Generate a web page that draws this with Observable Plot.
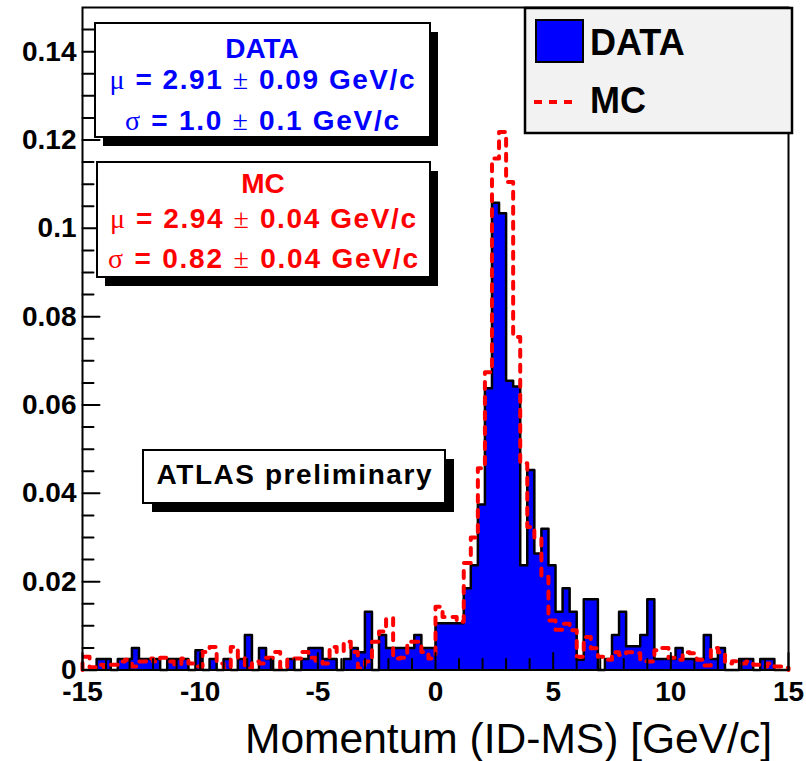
<!DOCTYPE html>
<html>
<head>
<meta charset="utf-8">
<script src="https://cdn.jsdelivr.net/npm/d3@7"></script>
<script src="https://cdn.jsdelivr.net/npm/@observablehq/plot@0.6"></script>
<style>
  html, body { margin: 0; padding: 0; background: #fff; overflow: hidden; }
  #chart svg { display: block; }
</style>
</head>
<body>
<div id="chart"></div>
<script>
// ---- data -------------------------------------------------------------
const binLow = -15, binHigh = 15, binWidth = 0.3;

const dataValues = [
  0, 0, 0.0025, 0.0025, 0, 0.0025, 0.0025, 0.005, 0.0025, 0.0025,
  0.0025, 0, 0.0025, 0.0025, 0.0025, 0, 0.0045, 0, 0.0025, 0,
  0.0025, 0, 0.0025, 0.0079, 0, 0.005, 0.0025, 0, 0, 0.0025,
  0, 0.0025, 0.005, 0.005, 0.0025, 0.0025, 0, 0.0025, 0.005, 0.004,
  0.0132, 0, 0.0079, 0.005, 0.005, 0.005, 0.005, 0.0079, 0.005, 0.005,
  0.0106, 0.0106, 0.0106, 0.0106, 0.0185, 0.0237, 0.0375, 0.0638, 0.1058, 0.1034,
  0.0655, 0.0642, 0.0237, 0.0453, 0.0264, 0.032, 0.0237, 0.0132, 0.0185, 0.0132,
  0.0023, 0.016, 0.016, 0, 0.0025, 0.0079, 0.0132, 0.0054, 0.0054, 0.0079,
  0.016, 0.0025, 0.0025, 0.0025, 0.005, 0.0025, 0.0025, 0.0025, 0.0079, 0.0025,
  0.005, 0, 0, 0.0025, 0.0025, 0, 0.0025, 0.0025, 0, 0
];

const mcValues = [
  0.003, 0.0006, 0.0012, 0.0006, 0.0012, 0.0019, 0.0023, 0.0008, 0.0019, 0.0026,
  0.0019, 0.0028, 0.0019, 0.0012, 0.0026, 0.0015, 0.0008, 0.0041, 0.0052, 0.0015,
  0.0004, 0.0052, 0.0028, 0.0004, 0.0019, 0.0015, 0.0028, 0.0041, 0.0004, 0.0023,
  0.0026, 0.0041, 0.0028, 0.0019, 0.0015, 0.0052, 0.0041, 0.0064, 0.0041, 0.0004,
  0.0019, 0.0064, 0.0087, 0.0117, 0.0026, 0.0028, 0.0064, 0.0064, 0.0041, 0.0026,
  0.0143, 0.012, 0.012, 0.0109, 0.0242, 0.030, 0.0457, 0.0674, 0.1158, 0.1218,
  0.1105, 0.0754, 0.0468, 0.0324, 0.030, 0.0211, 0.0112, 0.0091, 0.0105, 0.009,
  0.003, 0.0075, 0.0049, 0.003, 0.0023, 0.004, 0.0034, 0.004, 0.0038, 0.002,
  0.0019, 0.0045, 0.005, 0.0028, 0.0023, 0.004, 0.0038, 0.0023, 0.001, 0.005,
  0.004, 0.0015, 0.002, 0.0015, 0.0019, 0.0012, 0.0008, 0.0015, 0.0008, 0.0005
];

const xTicks = [-15, -10, -5, 0, 5, 10, 15];
const yTicks = [0, 0.02, 0.04, 0.06, 0.08, 0.1, 0.12, 0.14];
const xMinorStep = 1, yMinorStep = 0.005;

const dataStats = ["DATA", ["\u03bc", " = 2.91 ", "\u00b1", " 0.09 GeV/c"], ["\u03c3", " = 1.0 ", "\u00b1", " 0.1 GeV/c"]];
const mcStats = ["MC", ["\u03bc", " = 2.94 ", "\u00b1", " 0.04 GeV/c"], ["\u03c3", " = 0.82 ", "\u00b1", " 0.04 GeV/c"]];
const legendLabels = ["DATA", "MC"];
const atlasLabel = "ATLAS preliminary";
const xLabel = "Momentum (ID-MS) [GeV/c]";

// ---- derived tables -----------------------------------------------------
const nBins = dataValues.length;
const edges = d3.range(nBins + 1).map(i => +(binLow + i * binWidth).toFixed(4));
function stepPoints(vals, closed) {
  const pts = [];
  if (closed) pts.push({x: edges[0], y: 0});
  vals.forEach((v, i) => pts.push({x: edges[i], y: v}));
  pts.push({x: edges[nBins], y: vals[nBins - 1]});
  if (closed) pts.push({x: edges[nBins], y: 0});
  return pts;
}
const dataArea = stepPoints(dataValues, false);
const dataOutline = stepPoints(dataValues, true);
const mcLine = stepPoints(mcValues, true);
const xMinor = d3.range(binLow, binHigh + 0.001, xMinorStep).filter(v => !xTicks.includes(v));
const yMinor = d3.range(0, 0.15, yMinorStep).map(v => +v.toFixed(4)).filter(v => !yTicks.some(t => Math.abs(t - v) < 1e-9));

const tickShape = {draw(context, l) { context.moveTo(0, 0); context.lineTo(0, -l); }};
const BLUE = "#0000ff", RED = "#ff0000";
const FONT = "'Liberation Sans', Arial, Helvetica, sans-serif";

const svgNode = Plot.plot({
  width: 806,
  height: 761,
  marginTop: 7,
  marginRight: 18,
  marginBottom: 91.5,
  marginLeft: 82,
  x: {domain: [binLow, binHigh]},
  y: {domain: [0, 0.15]},
  style: {fontFamily: FONT, background: "white", overflow: "visible", color: "black"},
  marks: [
    Plot.areaY(dataArea, {x: "x", y: "y", curve: "step-after", fill: BLUE}),
    Plot.line(dataOutline, {x: "x", y: "y", curve: "step-after", stroke: "black", strokeWidth: 2.5}),
    Plot.line(mcLine, {x: "x", y: "y", curve: "step-after", stroke: RED, strokeWidth: 4, strokeDasharray: "7,8"}),
    Plot.frame({stroke: "black", strokeWidth: 2}),
    Plot.vector(yTicks, {y: d => d, frameAnchor: "left", rotate: 90, length: 17, anchor: "start", shape: tickShape, stroke: "black", strokeWidth: 2}),
    Plot.vector(yMinor, {y: d => d, frameAnchor: "left", rotate: 90, length: 11, anchor: "start", shape: tickShape, stroke: "black", strokeWidth: 2}),
    Plot.vector(xTicks, {x: d => d, frameAnchor: "bottom", rotate: 0, length: 17, anchor: "start", shape: tickShape, stroke: "black", strokeWidth: 2}),
    Plot.vector(xMinor, {x: d => d, frameAnchor: "bottom", rotate: 0, length: 11, anchor: "start", shape: tickShape, stroke: "black", strokeWidth: 2}),
    Plot.axisX(xTicks, {tickSize: 0, tickPadding: 11, tickFormat: d => String(d), fontSize: 28, fontWeight: "bold", label: null}),
    Plot.axisY(yTicks, {tickSize: 0, tickPadding: 6, tickFormat: d => String(d), fontSize: 28, fontWeight: "bold", label: null})
  ]
});
document.getElementById("chart").appendChild(svgNode);

// ---- annotations (stat boxes, legend, labels) ------------------------------
const svg = d3.select(svgNode);
const ann = svg.append("g").attr("font-family", FONT).attr("text-anchor", "start");

function shadowBox(x, y, w, h, dx, dy, fill) {
  ann.append("rect").attr("x", x + dx).attr("y", y + dy).attr("width", w).attr("height", h).attr("fill", "black");
  ann.append("rect").attr("x", x).attr("y", y).attr("width", w).attr("height", h)
    .attr("fill", fill).attr("stroke", "black").attr("stroke-width", 2);
}
function statBlock(lines, color, cx, baselines, lengths) {
  lines.forEach((ln, i) => {
    const t = ann.append("text").attr("x", cx).attr("y", baselines[i]).attr("text-anchor", "middle")
      .attr("fill", color).attr("font-size", 28).attr("font-weight", "bold");
    if (typeof ln === "string") { t.text(ln); return; }
    t.attr("textLength", lengths[i]).attr("lengthAdjust", "spacing").attr("xml:space", "preserve");
    ln.forEach((part, j) => {
      const s = t.append("tspan").text(part);
      if (j % 2 === 0) s.attr("font-weight", "normal").attr("font-family", "'Liberation Serif', 'DejaVu Serif', serif");
    });
  });
}

// DATA stats box
shadowBox(95, 23, 335, 114, 8, 9, "white");
statBlock(dataStats, BLUE, 262, [58, 89, 130], [0, 305, 274]);
// MC stats box
shadowBox(97, 162, 333, 115, 8, 9, "white");
statBlock(mcStats, RED, 263, [193, 228, 268], [0, 306, 310]);

// legend
ann.append("rect").attr("x", 525).attr("y", 8).attr("width", 267).attr("height", 125)
  .attr("fill", "#f2f2f2").attr("stroke", "black").attr("stroke-width", 2.5);
ann.append("rect").attr("x", 536).attr("y", 20).attr("width", 47).attr("height", 42)
  .attr("fill", BLUE).attr("stroke", "black").attr("stroke-width", 2);
ann.append("line").attr("x1", 534).attr("x2", 574).attr("y1", 102).attr("y2", 102)
  .attr("stroke", RED).attr("stroke-width", 4).attr("stroke-dasharray", "8,7");
ann.append("text").attr("x", 590).attr("y", 55).attr("text-anchor", "start").attr("font-size", 36)
  .attr("font-weight", "bold").text(legendLabels[0]);
ann.append("text").attr("x", 590).attr("y", 113).attr("text-anchor", "start").attr("font-size", 36)
  .attr("font-weight", "bold").text(legendLabels[1]);

// ATLAS box
shadowBox(143, 450, 302, 53, 9, 9, "white");
ann.append("text").attr("x", 294).attr("y", 484).attr("text-anchor", "middle").attr("font-size", 28)
  .attr("font-weight", "bold").attr("textLength", 275).attr("lengthAdjust", "spacing").text(atlasLabel);

// x-axis title
ann.append("text").attr("x", 772).attr("y", 753).attr("text-anchor", "end").attr("font-size", 42)
  .attr("textLength", 527).attr("lengthAdjust", "spacingAndGlyphs").text(xLabel);
</script>
</body>
</html>
